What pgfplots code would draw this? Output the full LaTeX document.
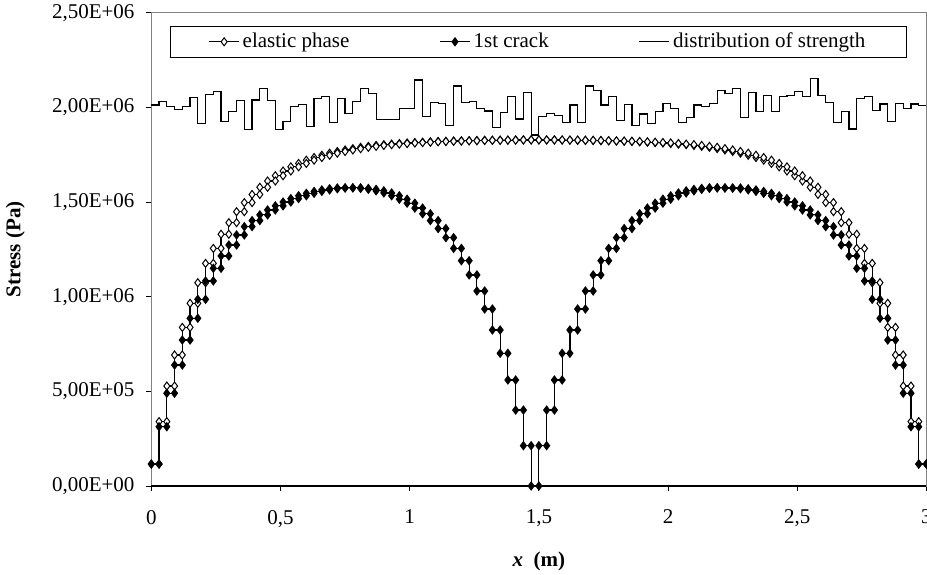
\documentclass[border=0pt]{standalone}
\usepackage{fontspec}
\setmainfont{Liberation Serif}
\usepackage{pgfplots}
\pgfplotsset{compat=1.18}
\usepackage{pgfplotstable}
\usetikzlibrary{calc}

% stresses in 1e6 Pa; one row per element, x0/x1 = element ends (m)
\pgfplotstableread{
x0   x1   e     c     s
0.00 0.03 0.116 0.116 2.013
0.03 0.06 0.340 0.313 2.030
0.06 0.09 0.528 0.490 2.004
0.09 0.12 0.692 0.639 1.990
0.12 0.15 0.838 0.771 2.004
0.15 0.18 0.965 0.886 2.053
0.18 0.21 1.074 0.986 1.916
0.21 0.24 1.176 1.083 2.066
0.24 0.27 1.255 1.150 2.083
0.27 0.30 1.330 1.215 1.925
0.30 0.33 1.391 1.273 1.978
0.33 0.36 1.449 1.326 2.036
0.36 0.39 1.497 1.370 1.884
0.39 0.42 1.540 1.402 2.039
0.42 0.45 1.578 1.432 2.101
0.45 0.48 1.611 1.458 2.036
0.48 0.51 1.639 1.480 1.881
0.51 0.54 1.664 1.500 1.925
0.54 0.57 1.686 1.518 2.004
0.57 0.60 1.704 1.533 2.016
0.60 0.63 1.721 1.546 1.898
0.63 0.66 1.735 1.556 2.048
0.66 0.69 1.747 1.564 2.057
0.69 0.72 1.758 1.570 1.921
0.72 0.75 1.767 1.574 2.048
0.75 0.78 1.775 1.575 1.969
0.78 0.81 1.782 1.575 2.030
0.81 0.84 1.789 1.572 2.101
0.84 0.87 1.794 1.567 2.074
0.87 0.90 1.799 1.559 1.937
0.90 0.93 1.803 1.548 1.937
0.93 0.96 1.806 1.533 1.937
0.96 0.99 1.809 1.515 1.995
0.99 1.02 1.812 1.494 1.995
1.02 1.05 1.814 1.468 2.145
1.05 1.08 1.816 1.438 1.951
1.08 1.11 1.818 1.402 2.025
1.11 1.14 1.820 1.360 2.022
1.14 1.17 1.821 1.312 1.904
1.17 1.20 1.822 1.255 2.113
1.20 1.23 1.823 1.190 2.027
1.23 1.26 1.824 1.115 2.030
1.26 1.29 1.825 1.030 1.995
1.29 1.32 1.826 0.935 1.981
1.32 1.35 1.826 0.824 1.895
1.35 1.38 1.827 0.701 1.974
1.38 1.41 1.827 0.560 2.057
1.41 1.44 1.828 0.401 1.939
1.44 1.47 1.828 0.213 2.080
1.47 1.50 1.828 0.000 1.854
1.50 1.53 1.828 0.213 1.951
1.53 1.56 1.828 0.401 1.969
1.56 1.59 1.828 0.560 1.956
1.59 1.62 1.827 0.701 1.921
1.62 1.65 1.827 0.824 2.013
1.65 1.68 1.826 0.935 1.921
1.68 1.71 1.826 1.030 2.113
1.71 1.74 1.825 1.115 2.088
1.74 1.77 1.824 1.190 2.013
1.77 1.80 1.823 1.255 2.057
1.80 1.83 1.822 1.312 1.930
1.83 1.86 1.821 1.360 2.016
1.86 1.89 1.820 1.402 1.904
1.89 1.92 1.818 1.438 1.965
1.92 1.95 1.816 1.468 1.916
1.95 1.98 1.814 1.494 1.978
1.98 2.01 1.812 1.515 2.022
2.01 2.04 1.809 1.533 1.995
2.04 2.07 1.806 1.548 1.919
2.07 2.10 1.803 1.559 1.948
2.10 2.13 1.799 1.567 2.013
2.13 2.16 1.794 1.572 2.004
2.16 2.19 1.789 1.575 2.022
2.19 2.22 1.782 1.575 2.088
2.22 2.25 1.775 1.574 2.074
2.25 2.28 1.767 1.574 2.101
2.28 2.31 1.758 1.570 1.946
2.31 2.34 1.747 1.564 2.078
2.34 2.37 1.735 1.556 1.978
2.37 2.40 1.721 1.546 2.062
2.40 2.43 1.704 1.533 1.978
2.43 2.46 1.686 1.518 2.057
2.46 2.49 1.664 1.500 2.062
2.49 2.52 1.639 1.480 2.083
2.52 2.55 1.611 1.458 2.057
2.55 2.58 1.578 1.432 2.154
2.58 2.61 1.540 1.402 2.062
2.61 2.64 1.497 1.370 2.027
2.64 2.67 1.449 1.326 1.921
2.67 2.70 1.391 1.273 1.978
2.70 2.73 1.330 1.215 1.886
2.73 2.76 1.255 1.150 2.048
2.76 2.79 1.176 1.083 2.057
2.79 2.82 1.074 0.986 1.983
2.82 2.85 0.965 0.886 2.018
2.85 2.88 0.838 0.771 1.925
2.88 2.91 0.692 0.639 2.022
2.91 2.94 0.528 0.490 1.992
2.94 2.97 0.340 0.313 2.018
2.97 3.00 0.116 0.116 2.009
3.00 3.00 0.116 0.116 2.009
}\slab

\begin{document}
\begin{tikzpicture}
\begin{axis}[
  scale only axis,
  width=387.6pt, height=236.65pt,
  at={(0,0)}, anchor=south west,
  xmin=0, xmax=3, ymin=0, ymax=2.5,
  xtick={0,0.5,1,1.5,2,2.5,3},
  xticklabels={0,{0,5},1,{1,5},2,{2,5},3},
  ytick={0,0.5,1,1.5,2,2.5},
  yticklabels={{0,00E+00},{5,00E+05},{1,00E+06},{1,50E+06},{2,00E+06},{2,50E+06}},
  xtick pos=bottom, ytick pos=left,
  tick align=outside,
  major tick length=2.5pt,
  tick style={black, line width=0.5pt},
  axis line style={draw=gray, line width=0.5pt},
  tick label style={font=\fontsize{10.5}{12}\selectfont},
  yticklabel style={xshift=-2.4pt},
  xticklabel style={yshift=-6pt},
  xlabel={\textbf{\textit{x}}\ \ \textbf{(m)}},
  xlabel style={at={(rel axis cs:0.5,0)}, anchor=base, yshift=-40pt,
    font=\fontsize{10.5}{12}\selectfont},
  ylabel={\textbf{Stress (Pa)}},
  ylabel style={at={([xshift=-68pt]rel axis cs:0,0.5)}, anchor=center,
    font=\fontsize{10.5}{12}\selectfont},
  legend columns=3,
  legend style={at={(rel axis cs:0,1)}, anchor=north west,
    xshift=9.35pt, yshift=-6.65pt, draw=black, line width=0.5pt,
    inner xsep=19pt, inner ysep=1.2pt,
    nodes={inner xsep=1.5pt, inner ysep=2pt},
    /tikz/every even column/.append style={column sep=43.5pt},
    font=\fontsize{10.5}{12}\selectfont},
  legend cell align=left,
  legend image code/.code={%
    \draw[mark repeat=2, mark phase=2, #1]
      plot coordinates {(0pt,0pt) (7.5pt,0pt) (15pt,0pt)};},
  clip=false,
  every axis plot/.append style={line width=0.6pt},
]
\coordinate (bl) at (rel axis cs:0,0);
\coordinate (tr) at (rel axis cs:1,1);

\addplot[black, const plot, mark=diamond*, mark size=2pt,
  mark options={fill=white, draw=black, line width=0.5pt}]
  table[x=x0, y=e] {\slab};
\addlegendentry{elastic phase}
\addplot[only marks, forget plot, mark=diamond*, mark size=2pt,
  mark options={fill=white, draw=black, line width=0.5pt}]
  table[x=x1, y=e] {\slab};

\addplot[black, const plot, mark=diamond*, mark size=2pt,
  mark options={fill=black, draw=black, line width=0.5pt}]
  table[x=x0, y=c] {\slab};
\addlegendentry{1st crack}
\addplot[only marks, forget plot, mark=diamond*, mark size=2pt,
  mark options={fill=black, draw=black, line width=0.5pt}]
  table[x=x1, y=c] {\slab};

\addplot[black, const plot, no marks] table[x=x0, y=s] {\slab};
\addlegendentry{distribution of strength}

\draw[black, line width=0.6pt] (rel axis cs:0,0) -- (rel axis cs:1,0);
\end{axis}
\pgfresetboundingbox
\path[use as bounding box] ($(bl)+(-75.65pt,-44pt)$) rectangle ($(tr)+(0.25pt,6.35pt)$);
\end{tikzpicture}
\end{document}
